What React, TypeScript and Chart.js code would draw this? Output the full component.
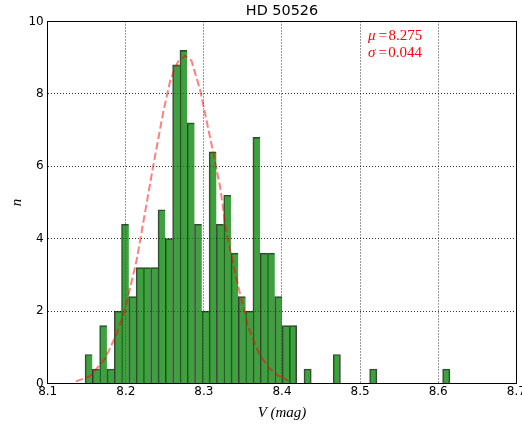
import { useEffect, useRef } from "react";
import { Chart, registerables } from "chart.js";

Chart.register(...registerables);

// Histogram of V magnitudes (normalised counts), 50 equal-width bins
const binStart = 8.1478;
const binWidth = 0.009344;
const density = [
  0.8, 0.4, 1.6, 0.4, 2.0, 4.4, 2.4, 3.2, 3.2, 3.2,
  4.8, 4.0, 8.8, 9.2, 7.2, 4.4, 2.0, 6.4, 4.4, 5.2,
  3.6, 2.4, 2.0, 6.8, 3.6, 3.6, 2.4, 1.6, 1.6, 0,
  0.4, 0, 0, 0, 0.8, 0, 0, 0, 0, 0.4,
  0, 0, 0, 0, 0, 0, 0, 0, 0, 0.4,
];

// Fitted normal curve, sampled points
const fitX = [
  8.136, 8.154, 8.173, 8.188, 8.199, 8.214, 8.235, 8.248, 8.257, 8.267,
  8.276, 8.284, 8.295, 8.304, 8.312, 8.321, 8.329, 8.344, 8.357, 8.370,
  8.382, 8.395, 8.408,
];
const fitY = [
  0.06, 0.2, 0.67, 1.35, 2.04, 3.42, 6.0, 7.5, 8.38, 8.9,
  9.05, 8.92, 8.12, 7.2, 6.37, 5.4, 4.15, 2.67, 1.55, 0.85,
  0.46, 0.22, 0.08,
];

const mu = 8.275;
const sigma = 0.044;

const xMin = 8.1;
const xMax = 8.7;
const xStep = 0.1;
const yMin = 0;
const yMax = 10;
const yStep = 2;

const titleText = "HD 50526";
const xTitle = "V (mag)";
const yTitle = "n";

const SANS = '"DejaVu Sans", sans-serif';
const SERIF = '"Liberation Serif", "DejaVu Serif", serif';

// Draws the fitted parameters in the upper right of the plot
const statsLabel = {
  id: "statsLabel",
  afterDraw(chart: any) {
    const { ctx, chartArea } = chart;
    const w = chartArea.right - chartArea.left;
    const h = chartArea.bottom - chartArea.top;
    const x0 = chartArea.left + 0.6835 * w;
    const lines = [
      { sym: "\u03bc", val: mu.toFixed(3), y: chartArea.top + 0.051 * h },
      { sym: "\u03c3", val: sigma.toFixed(3), y: chartArea.top + 0.098 * h },
    ];
    ctx.save();
    ctx.fillStyle = "#ff0000";
    ctx.textBaseline = "alphabetic";
    ctx.textAlign = "left";
    for (const ln of lines) {
      let x = x0;
      ctx.font = `italic 15px ${SERIF}`;
      ctx.fillText(ln.sym, x, ln.y);
      x += ctx.measureText(ln.sym).width + 3;
      ctx.font = `15px ${SERIF}`;
      ctx.fillText("=", x, ln.y);
      x += ctx.measureText("=").width + 1.5;
      ctx.fillText(ln.val, x, ln.y);
    }
    ctx.restore();
  },
};

export default function App() {
  const canvasRef = useRef<HTMLCanvasElement | null>(null);

  useEffect(() => {
    const canvas = canvasRef.current;
    if (!canvas) return;

    const bars = density.map((v, i) => ({
      x: binStart + (i + 0.5) * binWidth,
      y: v > 0 ? v : null,
    }));
    const curve = fitX.map((x, i) => ({ x, y: fitY[i] }));

    const chart = new Chart(canvas, {
      type: "bar",
      data: {
        datasets: [
          {
            type: "line",
            label: "fit",
            data: curve,
            borderColor: "rgba(255,0,0,0.5)",
            borderWidth: 2,
            borderDash: [7.4, 3.2],
            pointRadius: 0,
            tension: 0,
            fill: false,
            order: 0,
          } as any,
          {
            type: "bar",
            label: "V",
            data: bars,
            backgroundColor: "rgba(0,128,0,0.75)",
            borderColor: "rgba(0,0,0,0.75)",
            borderSkipped: false,
            borderWidth: (c: any) => {
              const i = c.dataIndex;
              if (i === undefined) return 1;
              const next = density[i + 1];
              return { left: 1, top: 1, right: next > 0 ? 0 : 1, bottom: 0 };
            },
            barPercentage: 1,
            categoryPercentage: 1,
            order: 1,
          } as any,
        ],
      },
      options: {
        responsive: false,
        animation: false,
        devicePixelRatio: 1,
        layout: { padding: { left: 0, right: 5.7, top: 0, bottom: 0 } },
        plugins: {
          legend: { display: false },
          tooltip: { enabled: false },
          title: {
            display: true,
            text: titleText,
            fullSize: false,
            color: "#000",
            font: { family: SANS, size: 14.4, weight: "normal", lineHeight: 1.2 },
            padding: { top: 3, bottom: 1.2 },
          },
        },
        scales: {
          x: {
            type: "linear",
            position: "bottom",
            min: xMin,
            max: xMax,
            offset: false,
            z: 1,
            afterFit: (s: any) => {
              s.height = 40.5;
              s.paddingLeft = 0;
              s.paddingRight = 0;
            },
            ticks: {
              stepSize: xStep,
              autoSkip: false,
              maxRotation: 0,
              padding: 1,
              color: "#000",
              font: { family: SANS, size: 12 },
              callback: (v: any) => Number(v).toFixed(1),
            },
            grid: {
              color: "rgba(0,0,0,0.8)",
              lineWidth: 1,
              drawTicks: false,
              offset: false,
            },
            border: { display: true, color: "#000", width: 1, dash: [1, 2] },
            title: {
              display: true,
              text: xTitle,
              color: "#000",
              font: { family: SERIF, size: 15, style: "italic" },
              padding: { top: 0, bottom: 2.3 },
            },
          },
          y: {
            type: "linear",
            position: "left",
            min: yMin,
            max: yMax,
            z: 1,
            afterFit: (s: any) => {
              s.width = 47.7;
              s.paddingTop = 0;
              s.paddingBottom = 0;
            },
            ticks: {
              stepSize: yStep,
              padding: 4,
              color: "#000",
              font: { family: SANS, size: 12 },
              callback: (v: any) => String(v),
            },
            grid: {
              color: "rgba(0,0,0,0.8)",
              lineWidth: 1,
              drawTicks: false,
            },
            border: { display: true, color: "#000", width: 1, dash: [1, 2] },
            title: {
              display: true,
              text: yTitle,
              color: "#000",
              font: { family: SERIF, size: 15, style: "italic" },
              padding: { top: 8.5, bottom: 0 },
            },
          },
          x2: {
            type: "linear",
            position: "top",
            min: xMin,
            max: xMax,
            offset: false,
            afterFit: (s: any) => {
              s.height = 0;
              s.paddingLeft = 0;
              s.paddingRight = 0;
            },
            ticks: { display: false },
            grid: { display: false, drawTicks: false, offset: false },
            border: { display: true, color: "#000", width: 1 },
          },
          y2: {
            type: "linear",
            position: "right",
            min: yMin,
            max: yMax,
            afterFit: (s: any) => {
              s.width = 0;
              s.paddingTop = 0;
              s.paddingBottom = 0;
            },
            ticks: { display: false },
            grid: { display: false, drawTicks: false },
            border: { display: true, color: "#000", width: 1 },
          },
        },
      } as any,
      plugins: [statsLabel],
    });

    return () => chart.destroy();
  }, []);

  return (
    <div style={{ position: "fixed", left: 0, top: 0, width: 522, height: 424, background: "#fff" }}>
      <canvas ref={canvasRef} width={522} height={424} />
    </div>
  );
}
